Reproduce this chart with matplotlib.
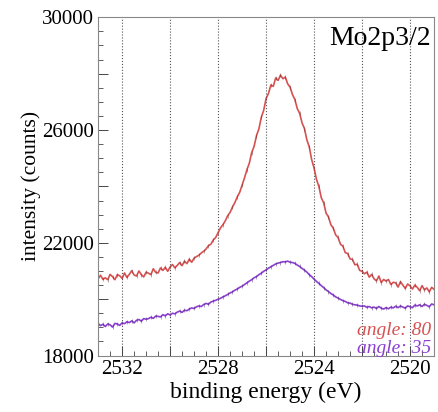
import numpy as np
import matplotlib
matplotlib.use('Agg')
import matplotlib.pyplot as plt
from matplotlib.ticker import MultipleLocator, FuncFormatter

# binding energy grid, 2533.0 -> 2519.0 eV in 0.1 eV steps
energy = np.round(np.arange(2533.0, 2518.95, -0.1), 1)

# angle 80 (red)
counts_80 = [
    20720, 20850, 20700, 20760, 20690, 20880, 20800, 20690, 20870, 20830, 20740,
    20930, 20770, 20880, 21010, 20860, 20820, 21000, 20870, 20790, 20960,
    20920, 20870, 21080, 20950, 20930, 21110, 21020, 21130, 20990, 21140,
    21230, 21110, 21200, 21300, 21190, 21350, 21260, 21420, 21310, 21460,
    21510, 21560, 21640, 21700, 21780, 21900, 21950, 22100, 22190, 22360,
    22530, 22640, 22780, 22960, 23080, 23270, 23430, 23630, 23790, 24040,
    24300, 24590, 24820, 25200, 25420, 25800, 26040, 26450, 26700, 27120,
    27300, 27600, 27550, 27850, 27760, 27950, 27820, 27880, 27640, 27520,
    27260, 27080, 26760, 26590, 26250, 26050, 25650, 25400, 24950, 24650,
    24250, 24000, 23600, 23420, 23050, 22920, 22640, 22520, 22280, 22190,
    21950, 21880, 21650, 21620, 21430, 21410, 21220, 21240, 21020, 20990,
    20900, 20960, 20780, 20880, 20720, 20650, 20820, 20590, 20700, 20640,
    20700, 20520, 20600, 20580, 20430, 20620, 20500, 20380, 20540, 20470,
    20360, 20500, 20420, 20300, 20480, 20330, 20400, 20260, 20420, 20350,
]

# angle 35 (purple)
counts_35 = [
    19140, 19060, 19110, 19030, 19120, 19090, 19010, 19140, 19120, 19070, 19160,
    19130, 19200, 19170, 19230, 19160, 19250, 19280, 19220, 19310, 19290,
    19310, 19360, 19320, 19400, 19390, 19370, 19450, 19410, 19480, 19440,
    19500, 19480, 19540, 19580, 19530, 19610, 19590, 19650, 19690, 19670,
    19730, 19760, 19740, 19810, 19850, 19820, 19900, 19930, 19960, 20000,
    20030, 20080, 20120, 20170, 20220, 20260, 20320, 20360, 20420, 20460,
    20520, 20580, 20640, 20690, 20760, 20800, 20870, 20920, 20990, 21040,
    21100, 21150, 21200, 21250, 21280, 21300, 21330, 21320, 21350, 21310,
    21300, 21270, 21210, 21160, 21090, 21030, 20960, 20870, 20800, 20710,
    20630, 20560, 20480, 20410, 20330, 20270, 20200, 20150, 20080, 20040,
    19990, 19950, 19920, 19870, 19860, 19820, 19800, 19790, 19760, 19750,
    19760, 19710, 19740, 19690, 19720, 19670, 19740, 19680, 19650, 19700,
    19660, 19720, 19690, 19750, 19700, 19760, 19720, 19680, 19760, 19730,
    19700, 19790, 19760, 19800, 19740, 19820, 19780, 19730, 19830, 19800,
]

labels = ['angle: 80', 'angle: 35']
colors = ['#d65252', '#8a3fd0']
bar_colors = ['#7a2a2a', '#4a2070']

plt.rcParams['font.family'] = ['Liberation Serif', 'DejaVu Serif']

fig = plt.figure(figsize=(4.38, 4.12), dpi=100)
ax = fig.add_axes([0.224, 0.137, 0.767, 0.821])

for y, c, bc in zip([counts_80, counts_35], colors, bar_colors):
    ax.plot(energy, y, color=c, lw=1.2)
    ax.plot(energy[::2], y[::2], ls='none', marker='|', ms=3, mew=0.5, color=bc, alpha=0.6)

ax.set_xlim(2533, 2519)
ax.set_ylim(18000, 30000)

ax.xaxis.set_major_locator(MultipleLocator(2))
ax.xaxis.set_minor_locator(MultipleLocator(0.5))
ax.yaxis.set_major_locator(MultipleLocator(2000))
ax.yaxis.set_minor_locator(MultipleLocator(500))
ax.xaxis.set_major_formatter(FuncFormatter(lambda v, p: '%d' % v if round(v) % 4 == 0 else ''))
ax.yaxis.set_major_formatter(FuncFormatter(lambda v, p: '%d' % v if round(v) % 4000 == 2000 else ''))
ax.tick_params(which='both', direction='in', labelsize=15, color='#444444', pad=3)
ax.tick_params(which='major', length=7, width=0.7)
ax.tick_params(which='minor', length=3.5, width=0.6)
ax.grid(axis='x', which='major', ls=':', color='#555555', lw=0.8)

for s in ax.spines.values():
    s.set_color('#888888')
    s.set_linewidth(0.8)

ax.set_xlabel('binding energy (eV)', fontsize=17, labelpad=2)
ax.set_ylabel('intensity (counts)', fontsize=15.5, labelpad=1)

ax.text(0.99, 0.975, 'Mo2p3/2', transform=ax.transAxes, ha='right', va='top', fontsize=20)
ax.text(0.99, 0.075, labels[0], transform=ax.transAxes, ha='right', va='center',
        fontsize=14, style='italic', color=colors[0])
ax.text(0.99, 0.02, labels[1], transform=ax.transAxes, ha='right', va='center',
        fontsize=14, style='italic', color=colors[1])

fig.savefig('out.png', dpi=100)
